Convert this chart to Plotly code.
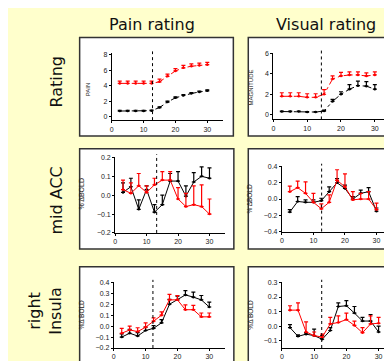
import plotly.graph_objects as go

W, H = 392, 361

TIME = [2.5, 5, 7.5, 10, 12.5, 15, 17.5, 20, 22.5, 25, 27.5, 30]

COL_TITLES = ["Pain rating", "Visual rating"]
ROW_TITLES = ["Rating", "mid ACC", "right<br>Insula"]
Y_TITLES = ["PAIN", "MAGNITUDE", "% \u0394BOLD", "% \u0394BOLD", "%\u0394 BOLD", "%\u0394 BOLD"]

# Rating
pain_red = [4.3, 4.3, 4.3, 4.3, 4.3, 4.5, 5.2, 5.9, 6.3, 6.5, 6.6, 6.7]
pain_red_err = [0.3, 0.3, 0.3, 0.3, 0.3, 0.35, 0.3, 0.3, 0.3, 0.3, 0.3, 0.3]
pain_black = [0.75, 0.75, 0.75, 0.75, 0.8, 1.2, 1.9, 2.45, 2.75, 3.0, 3.2, 3.35]
pain_black_err = [0.08, 0.08, 0.08, 0.08, 0.08, 0.1, 0.12, 0.12, 0.12, 0.12, 0.12, 0.12]

visual_red = [1.8, 1.8, 1.8, 1.7, 1.7, 2.0, 3.5, 3.8, 3.9, 3.9, 3.8, 3.9]
visual_red_err = [0.35, 0.35, 0.35, 0.35, 0.35, 0.45, 0.3, 0.35, 0.3, 0.3, 0.3, 0.3]
visual_black = [0.3, 0.3, 0.3, 0.25, 0.25, 0.35, 1.3, 2.0, 2.5, 2.85, 2.8, 2.5]
visual_black_err = [0.05, 0.05, 0.05, 0.05, 0.05, 0.1, 0.2, 0.25, 0.45, 0.45, 0.45, 0.45]

# mid ACC
acc_pain_red = [0.03, 0.01, 0.05, 0.015, 0.055, 0.08, 0.08, -0.02, -0.06, -0.05, -0.06, -0.1]
acc_pain_red_err = [0.05, 0.055, 0.065, 0.035, 0.035, 0.045, 0.045, 0.06, 0.07, 0.1, 0.115, 0.08]
acc_pain_black = [0.015, 0.045, -0.075, 0.03, -0.09, -0.05, 0.075, 0.075, -0.005, 0.07, 0.1, 0.09]
acc_pain_black_err = [0.05, 0.045, 0.05, 0.02, 0.04, 0.05, 0.04, 0.05, 0.055, 0.05, 0.05, 0.055]

acc_vis_red = [0.09, 0.14, 0.07, -0.04, -0.12, -0.04, 0.23, 0.15, -0.01, 0.0, 0.0, -0.13]
acc_vis_red_err = [0.07, 0.08, 0.14, 0.11, 0.06, 0.09, 0.13, 0.16, 0.1, 0.07, 0.09, 0.08]
acc_vis_black = [-0.16, -0.03, -0.04, -0.04, -0.02, 0.09, 0.2, 0.13, 0.0, 0.07, 0.09, -0.15]
acc_vis_black_err = [0.03, 0.06, 0.03, 0.03, 0.03, 0.06, 0.05, 0.04, 0.03, 0.04, 0.05, 0.04]

# right Insula
ins_pain_red = [-0.065, -0.035, -0.05, -0.01, 0.045, 0.1, 0.24, 0.24, 0.15, 0.15, 0.085, 0.085]
ins_pain_red_err = [0.045, 0.035, 0.035, 0.04, 0.03, 0.03, 0.05, 0.04, 0.045, 0.04, 0.035, 0.035]
ins_pain_black = [-0.1, -0.065, -0.09, -0.04, -0.02, 0.03, 0.2, 0.24, 0.285, 0.265, 0.24, 0.175]
ins_pain_black_err = [0.03, 0.035, 0.03, 0.03, 0.025, 0.03, 0.045, 0.035, 0.04, 0.045, 0.04, 0.045]

ins_vis_red = [0.11, 0.11, -0.04, -0.065, -0.075, 0.015, 0.025, 0.045, 0.005, -0.045, 0.015, 0.02]
ins_vis_red_err = [0.03, 0.05, 0.07, 0.025, 0.02, 0.045, 0.045, 0.045, 0.03, 0.035, 0.055, 0.04]
ins_vis_black = [-0.01, -0.07, -0.055, -0.065, -0.09, -0.03, 0.135, 0.14, 0.09, 0.035, 0.035, -0.04]
ins_vis_black_err = [0.02, 0.01, 0.01, 0.045, 0.025, 0.02, 0.025, 0.035, 0.045, 0.025, 0.045, 0.04]

ONSETS = [12.8, 14.2, 13.2, 12.6, 12.3, 12.35]

panels = [
    dict(red=pain_red, rerr=pain_red_err, blk=pain_black, berr=pain_black_err,
         px=(102.3, 214.3), py=(43.1, 111.0), yr=(-0.42, 8.15), dt=[0, 2, 4, 6, 8], fmt="d", dash="dashdot", ytf=6),
    dict(red=visual_red, rerr=visual_red_err, blk=visual_black, berr=visual_black_err,
         px=(264.7, 383.7), py=(42.3, 110.3), yr=(-0.48, 6.1), dt=[0, 2, 4, 6], fmt="d", dash="dashdot", ytf=6),
    dict(red=acc_pain_red, rerr=acc_pain_red_err, blk=acc_pain_black, berr=acc_pain_black_err,
         px=(105.7, 216.3), py=(148.0, 225.7), yr=(-0.2, 0.205), dt=[-0.2, -0.1, 0.0, 0.1, 0.2], fmt=".1f", dash="solid", ytf=7),
    dict(red=acc_vis_red, rerr=acc_vis_red_err, blk=acc_vis_black, berr=acc_vis_black_err,
         px=(273.3, 384.2), py=(157.3, 224.3), yr=(-0.4, 0.41), dt=[-0.4, -0.2, 0.0, 0.2, 0.4], fmt=".1f", dash="solid", ytf=6.5),
    dict(red=ins_pain_red, rerr=ins_pain_red_err, blk=ins_pain_black, berr=ins_pain_black_err,
         px=(104.3, 216.3), py=(275.4, 342.7), yr=(-0.2, 0.405), dt=[-0.2, -0.1, 0.0, 0.1, 0.2, 0.3, 0.4], fmt=".1f", dash="solid", ytf=6.5),
    dict(red=ins_vis_red, rerr=ins_vis_red_err, blk=ins_vis_black, berr=ins_vis_black_err,
         px=(273.3, 386.7), py=(275.3, 342.7), yr=(-0.15, 0.305), dt=[-0.1, 0.0, 0.1, 0.2, 0.3], fmt=".1f", dash="solid", ytf=6.5),
]

YT_POS = [(78, 80), (242, 78), (72, 186), (241, 191), (72, 309), (242, 309)]

def fx(p):
    return p / W

def fy(p):
    return 1 - p / H

fig = go.Figure()
layout = dict(
    width=W, height=H, margin=dict(l=0, r=0, t=0, b=0),
    paper_bgcolor="#FFFFCC", plot_bgcolor="rgba(0,0,0,0)",
    showlegend=False, shapes=[], annotations=[],
)

tickfont = dict(family="Liberation Sans, Arial", size=7, color="#222")

for i, p in enumerate(panels):
    n = i + 1
    xa = "x" if n == 1 else f"x{n}"
    ya = "y" if n == 1 else f"y{n}"
    for vals, errs, col in [(p["blk"], p["berr"], "#000000"), (p["red"], p["rerr"], "#FF0000")]:
        fig.add_trace(go.Scatter(
            x=TIME, y=vals, mode="lines+markers", xaxis=xa, yaxis=ya,
            line=dict(color=col, width=1, dash=p["dash"]),
            marker=dict(color=col, size=2.5, symbol="circle"),
            error_y=dict(type="data", array=errs, arrayminus=[0] * len(errs), symmetric=False,
                         color=col, thickness=1.2, width=2),
            cliponaxis=False,
        ))
    xkey = "xaxis" if n == 1 else f"xaxis{n}"
    ykey = "yaxis" if n == 1 else f"yaxis{n}"
    layout[xkey] = dict(
        domain=[fx(p["px"][0]), fx(p["px"][1])], anchor=ya, range=[0, 35],
        tickvals=[0, 10, 20, 30], showgrid=False, zeroline=False, showline=True,
        linecolor="#000", linewidth=1, ticks="outside", ticklen=2, tickcolor="#000",
        tickfont=tickfont, fixedrange=True,
    )
    layout[ykey] = dict(
        domain=[fy(p["py"][1]), fy(p["py"][0])], anchor=xa, range=list(p["yr"]),
        tickvals=p["dt"], tickformat=p["fmt"], showgrid=False, zeroline=False, showline=True,
        linecolor="#000", linewidth=1, ticks="outside", ticklen=2, tickcolor="#000",
        tickfont=tickfont, fixedrange=True,
    )
    layout["shapes"].append(dict(
        type="line", xref=xa, yref=f"{ya} domain", x0=ONSETS[i], x1=ONSETS[i], y0=0, y1=1.03,
        line=dict(color="#000", width=1, dash="dot"),
    ))
    layout["annotations"].append(dict(
        text=Y_TITLES[i], xref="paper", yref="paper", x=fx(YT_POS[i][0]), y=fy(YT_POS[i][1]),
        showarrow=False, textangle=-90, xanchor="center", yanchor="middle",
        font=dict(family="Liberation Sans, Arial", size=p["ytf"], color="#222"),
    ))

boxes = [(70, 27, 224.5, 127), (239.5, 27, 400, 127),
         (70, 140, 225, 242), (239.5, 140, 400, 242),
         (70, 260, 225, 360), (239.5, 260, 400, 360)]
for (x0, y0, x1, y1) in boxes:
    layout["shapes"].append(dict(
        type="rect", xref="paper", yref="paper", x0=fx(x0), x1=fx(x1), y0=fy(y1), y1=fy(y0),
        fillcolor="#FFFFFF", line=dict(color="#333", width=1.5), layer="below",
    ))

layout["shapes"].append(dict(
    type="path", xref="paper", yref="paper",
    path=f"M {fx(376)} {fy(-2)} L {fx(394)} {fy(-2)} L {fx(394)} {fy(10)} Z",
    fillcolor="#FF0000", line=dict(color="#000", width=1), layer="above",
))

for t, cx in zip(COL_TITLES, [143, 318]):
    layout["annotations"].append(dict(
        text=t, xref="paper", yref="paper", x=fx(cx), y=fy(2), showarrow=False,
        xanchor="center", yanchor="top",
        font=dict(family="DejaVu Sans, Verdana", size=16, color="#111"),
    ))

for t, cx, cy in zip(ROW_TITLES, [47, 47, 35], [72, 193, 305]):
    layout["annotations"].append(dict(
        text=t, xref="paper", yref="paper", x=fx(cx), y=fy(cy), showarrow=False,
        textangle=-90, xanchor="center", yanchor="middle",
        font=dict(family="DejaVu Sans, Verdana", size=16, color="#111"),
    ))

fig.update_layout(**layout)
fig.write_html("out.html")
